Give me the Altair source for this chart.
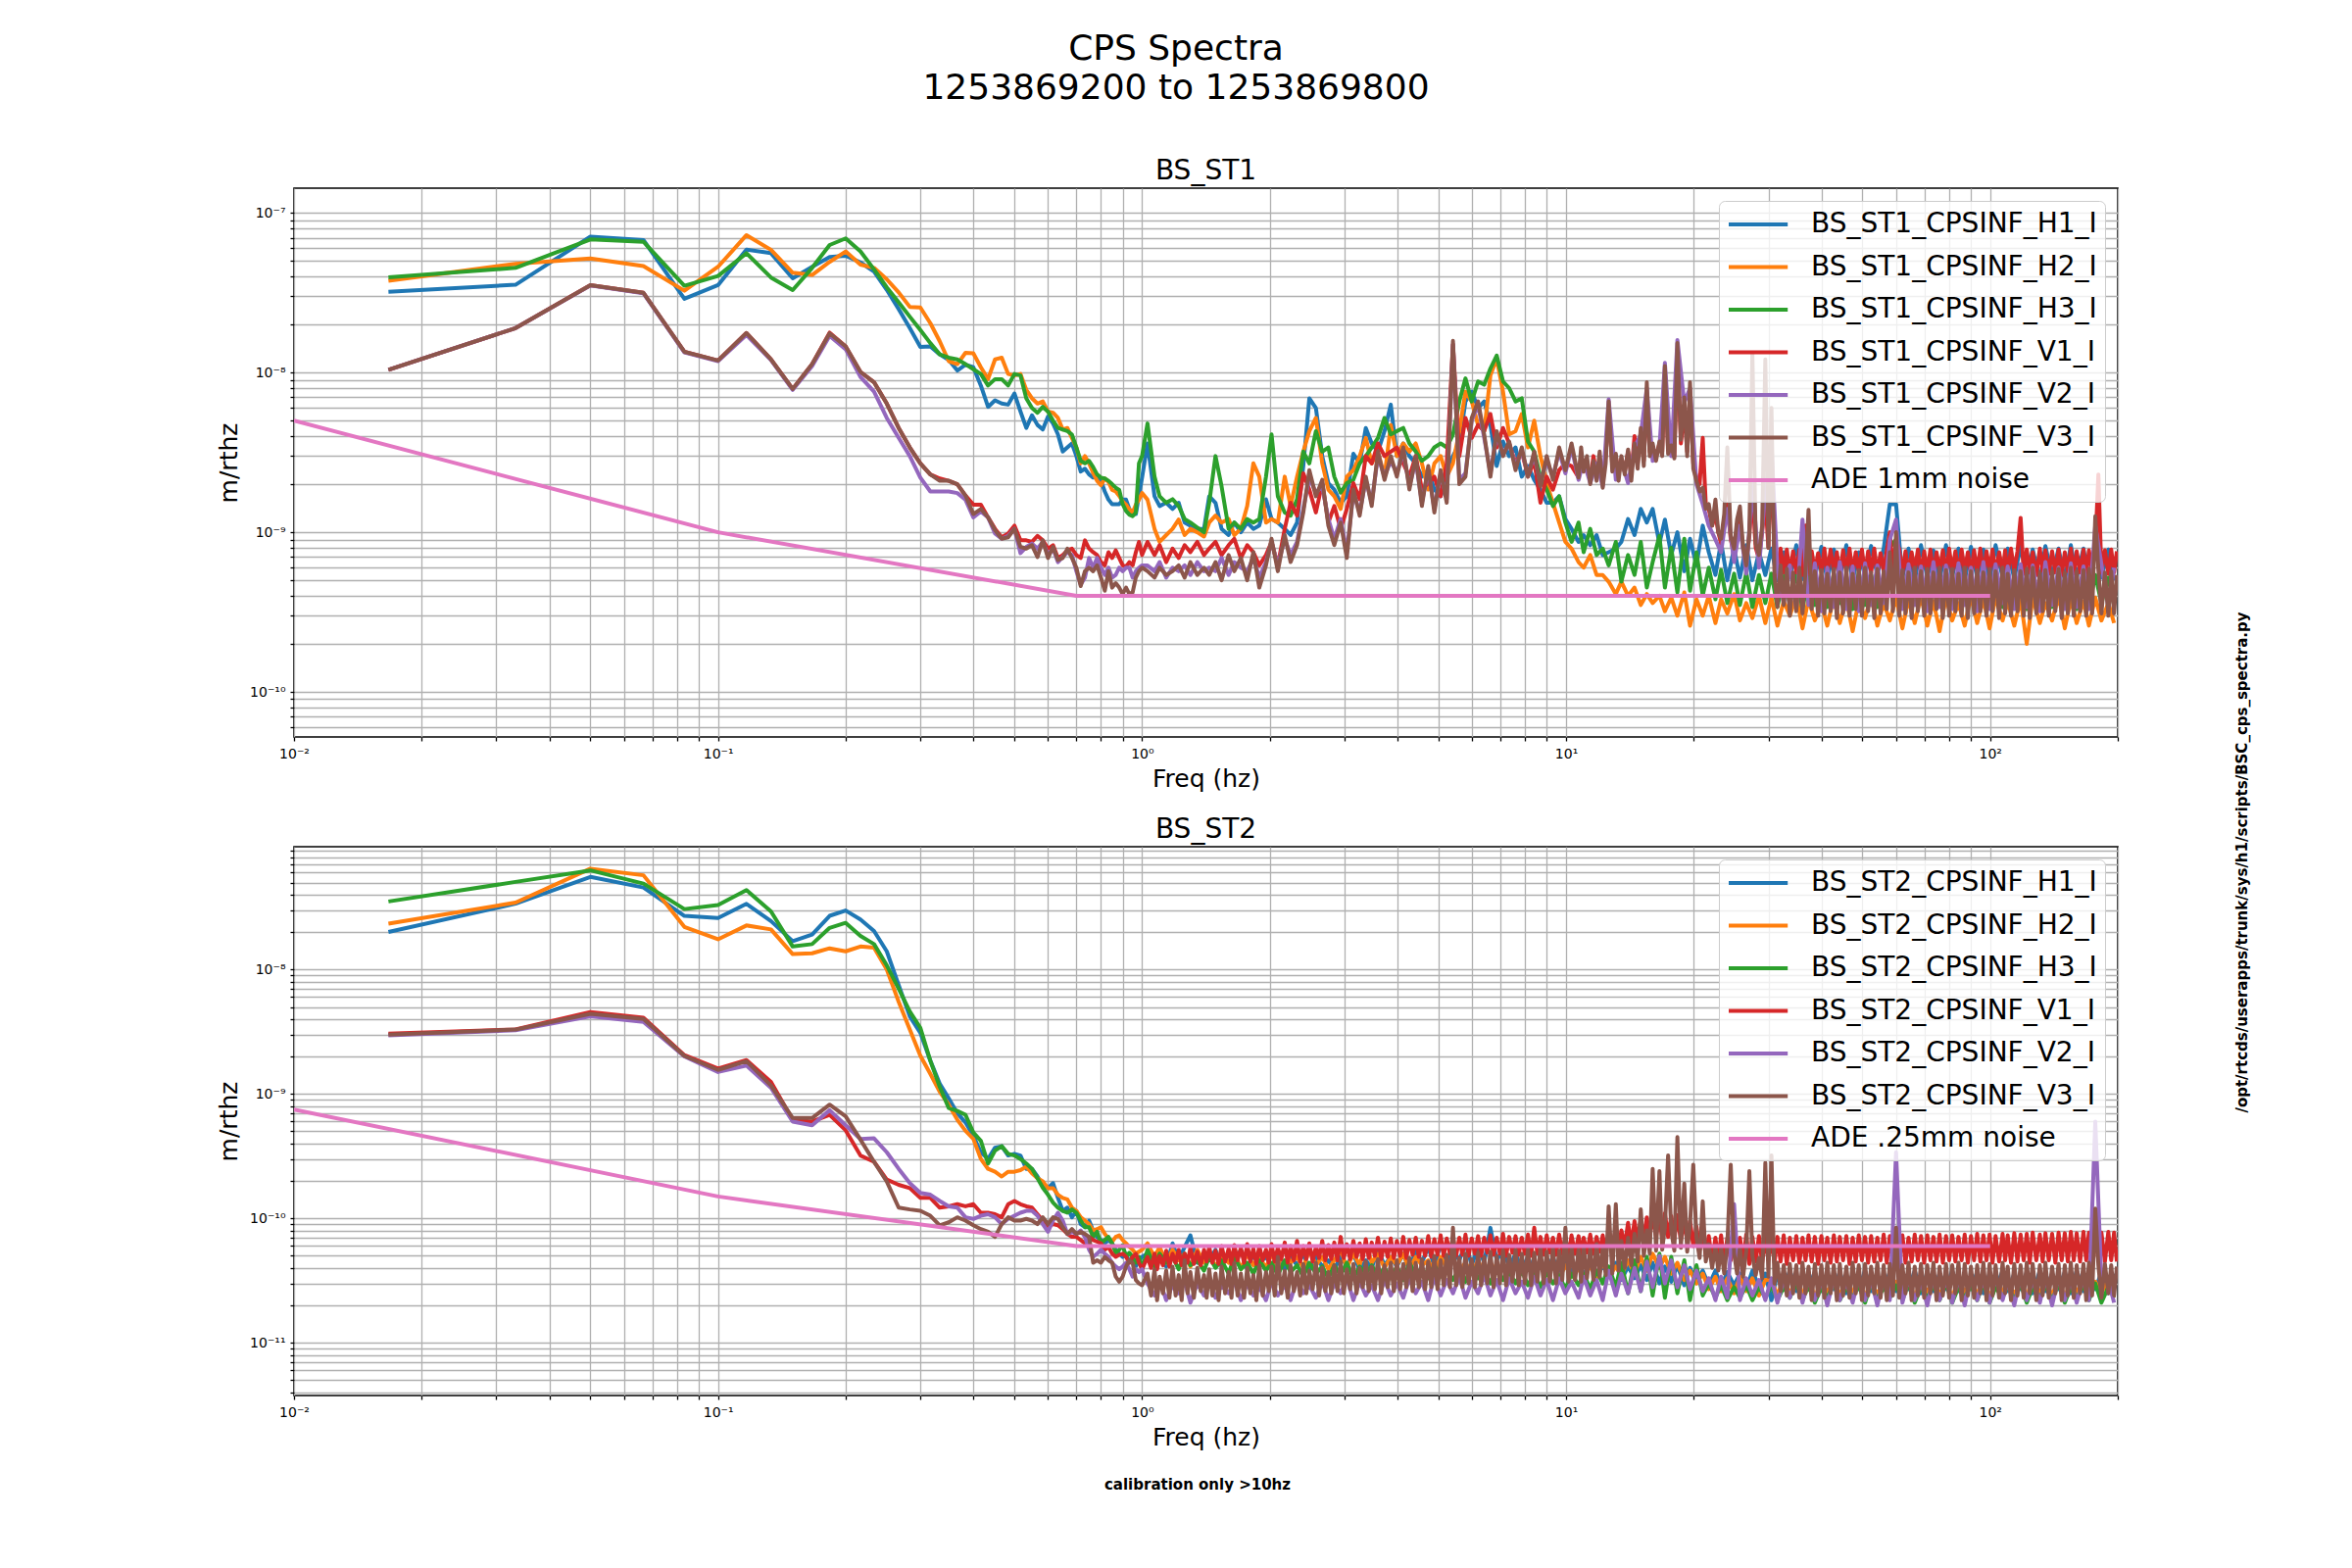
import altair as alt
import pandas as pd

FONT = "DejaVu Sans"
UNIT = 1e-10  # all series values below are in units of 1e-10 m/rthz

# ---------------- frequency grids (Hz) ----------------
F_LOW = [
    0.0167, 0.0333, 0.05, 0.0667, 0.0833, 0.1, 0.1167, 0.1333, 0.15, 0.1667,
    0.1833, 0.2, 0.2167, 0.2333, 0.25, 0.2667, 0.2833, 0.3, 0.3167, 0.3333,
    0.35, 0.3667, 0.3833, 0.4, 0.4167, 0.4333, 0.45, 0.4667, 0.4833, 0.5,
    0.5167, 0.5333, 0.55, 0.5667, 0.5833, 0.6, 0.6167, 0.6333, 0.65, 0.6667,
    0.6833, 0.7, 0.7167, 0.7333, 0.75, 0.7667, 0.7833, 0.8, 0.8167, 0.8333,
    0.85, 0.8667, 0.8833, 0.9, 0.9167, 0.9333, 0.95, 0.9667, 0.9833, 1.0,
]
F_HIGH = [
    1.03, 1.07, 1.10, 1.14, 1.18, 1.22, 1.26, 1.30, 1.35, 1.40,
    1.44, 1.49, 1.54, 1.60, 1.65, 1.71, 1.77, 1.83, 1.89, 1.96,
    2.02, 2.09, 2.17, 2.24, 2.32, 2.40, 2.48, 2.57, 2.66, 2.75,
    2.84, 2.94, 3.04, 3.15, 3.26, 3.37, 3.48, 3.60, 3.73, 3.86,
    3.99, 4.13, 4.27, 4.42, 4.57, 4.73, 4.89, 5.06, 5.23, 5.41,
    5.60, 5.79, 5.99, 6.20, 6.41, 6.63, 6.86, 7.10, 7.34, 7.60,
    7.86, 8.13, 8.41, 8.70, 9.00, 9.31, 9.63, 9.96, 10.3, 10.7,
    11.0, 11.4, 11.8, 12.2, 12.6, 13.1, 13.5, 14.0, 14.5, 15.0,
    15.5, 16.0, 16.6, 17.1, 17.7, 18.3, 19.0, 19.6, 20.3, 21.0,
    21.7, 22.5, 23.2, 24.0, 24.9, 25.7, 26.6, 27.5, 28.5, 29.5,
    30.5, 31.5, 32.6, 33.7, 34.9, 36.1, 37.3, 38.6, 40.0, 41.3,
    42.8, 44.2, 45.8, 47.4, 49.0, 50.7, 52.4, 54.2, 56.1, 58.0,
    60.0, 62.1, 64.2, 66.4, 68.7, 71.1, 73.5, 76.0, 78.7, 81.4,
    84.2, 87.1, 90.1, 93.2, 96.4, 99.7, 103, 107, 110, 114,
    118, 122, 126, 131, 135, 140, 145, 150, 155, 160,
    166, 171, 177, 183, 190, 196,
]
F_HIGH_A = [
    1.03, 1.07, 1.10, 1.14, 1.18, 1.22, 1.26, 1.30, 1.35, 1.40,
    1.44, 1.49, 1.54, 1.60, 1.65, 1.71, 1.77, 1.83, 1.89, 1.96,
    2.02, 2.09, 2.17, 2.24, 2.32, 2.40, 2.48, 2.57, 2.66, 2.75,
    2.84, 2.94, 3.04, 3.15, 3.26, 3.37, 3.48, 3.60, 3.73, 3.86,
    3.99, 4.13, 4.27, 4.42, 4.57, 4.73, 4.89, 5.06, 5.23, 5.41,
    5.60, 5.79, 5.99, 6.20, 6.41, 6.63, 6.86, 7.10, 7.34, 7.60,
    7.86, 8.13, 8.41, 8.70, 9.00, 9.31, 9.63, 9.96, 10.3,
]
F_DENSE_1 = [
    1.03, 1.05, 1.07, 1.085, 1.10, 1.12, 1.14, 1.16, 1.18, 1.20,
    1.22, 1.24, 1.26, 1.28, 1.30, 1.325, 1.35, 1.375, 1.40, 1.42,
    1.44, 1.465, 1.49, 1.515, 1.54, 1.57, 1.60, 1.625, 1.65, 1.68,
    1.71, 1.74, 1.77, 1.80, 1.83, 1.86, 1.89, 1.925, 1.96, 1.99,
    2.02, 2.055, 2.09, 2.13, 2.17, 2.205, 2.24, 2.28, 2.32, 2.36,
    2.40, 2.44, 2.48, 2.525, 2.57, 2.615, 2.66, 2.705, 2.75, 2.795,
    2.84, 2.89, 2.94, 2.99, 3.04, 3.095, 3.15, 3.205, 3.26, 3.315,
    3.37, 3.425, 3.48, 3.54, 3.60, 3.665, 3.73, 3.795, 3.86, 3.925,
    3.99, 4.06, 4.13, 4.2, 4.27, 4.345, 4.42, 4.495, 4.57, 4.65,
    4.73, 4.81, 4.89, 4.975, 5.06, 5.145, 5.23, 5.32, 5.41, 5.505,
    5.60, 5.695, 5.79, 5.89, 5.99, 6.095, 6.20, 6.305, 6.41, 6.52,
    6.63, 6.745, 6.86, 6.98, 7.10, 7.22, 7.34, 7.47, 7.60, 7.73,
    7.86, 7.995, 8.13, 8.27, 8.41, 8.555, 8.70, 8.85, 9.00, 9.155,
    9.31, 9.47, 9.63, 9.795, 9.96, 10.13, 10.3, 10.5,
]
F_DENSE_10 = [
    10.7, 10.85, 11.0, 11.2, 11.4, 11.6, 11.8, 12.0, 12.2, 12.4,
    12.6, 12.85, 13.1, 13.3, 13.5, 13.75, 14.0, 14.25, 14.5, 14.75,
    15.0, 15.25, 15.5, 15.75, 16.0, 16.3, 16.6, 16.85, 17.1, 17.4,
    17.7, 18.0, 18.3, 18.65, 19.0, 19.3, 19.6, 19.95, 20.3, 20.65,
    21.0, 21.35, 21.7, 22.1, 22.5, 22.85, 23.2, 23.6, 24.0, 24.45,
    24.9, 25.3, 25.7, 26.15, 26.6, 27.05, 27.5, 28.0, 28.5, 29.0,
    29.5, 30.0, 30.5, 31.0, 31.5, 32.05, 32.6, 33.15, 33.7, 34.3,
    34.9, 35.5, 36.1, 36.7, 37.3, 37.95, 38.6, 39.3, 40.0, 40.65,
    41.3, 42.05, 42.8, 43.5, 44.2, 45.0, 45.8, 46.6, 47.4, 48.2,
    49.0, 49.85, 50.7, 51.55, 52.4, 53.3, 54.2, 55.15, 56.1, 57.05,
    58.0, 59.0, 60.0, 61.05, 62.1, 63.15, 64.2, 65.3, 66.4, 67.55,
    68.7, 69.9, 71.1, 72.3, 73.5, 74.75, 76.0, 77.35, 78.7, 80.05,
    81.4, 82.8, 84.2, 85.65, 87.1, 88.6, 90.1, 91.65, 93.2, 94.8,
    96.4, 98.05, 99.7, 101.3, 103, 105, 107, 108.5, 110, 112,
    114, 116, 118, 120, 122, 124, 126, 128.5, 131, 133,
    135, 137.5, 140, 142.5, 145, 147.5, 150, 152.5, 155, 157.5,
    160, 163, 166, 168.5, 171, 174, 177, 180, 183, 186.5,
    190, 193, 196, 199,
]

# ---------------- BS_ST1 ----------------
ST1_H1_LOW = [
    321, 355, 710, 676, 290, 353, 590, 560, 390, 460,
    530, 540, 490, 430, 330, 250, 190, 145, 146, 130,
    120, 103, 112, 108, 83, 61, 67, 64, 63, 74,
    57, 45, 54, 47, 44, 53, 48, 41, 32, 34,
    36, 30, 24, 25, 23, 22, 22, 21, 18, 16,
    15, 15, 15, 16, 16, 14, 13, 13, 17, 22,
]
ST1_H1_HIGH = [
    36, 16.8, 14.6, 15.3, 14.0, 15.3, 11.5, 11.0, 10.5, 10.5,
    16.8, 15.3, 10.5, 9.6, 11.5, 10.0, 11.5, 10.5, 11.0, 16.1,
    12.1, 11.5, 10.5, 9.6, 11.5, 26, 69, 60, 30, 20.3,
    18.5, 15.3, 16.8, 31, 27, 45, 36, 32, 43, 63,
    30, 36, 30, 27, 22.3, 24.5, 18.5, 16.8, 22.3, 30,
    36, 66, 76, 60, 66, 47, 26, 37, 30, 34,
    22.3, 26, 21.3, 18.5, 15.3, 15.3, 16.8, 12.1, 10.5, 8.7,
    9.6, 8.3, 9.6, 7.2, 7.5, 7.9, 8.7, 12.1, 9.6, 14.0,
    11.5, 14.0, 8.5, 12.0, 7.2, 10.0, 5.7, 9.1, 6.2, 11.0,
    7.5, 5.4, 8.7, 5.0, 7.9, 5.2, 8.3, 5.0, 7.5, 5.4,
    7.9, 5.0, 7.5, 5.2, 8.3, 5.1, 7.9, 5.2, 8.1, 5.0,
    7.8, 5.2, 8.3, 5.0, 7.5, 5.3, 8.2, 5.4, 7.9, 15.0,
    15.0, 5.2, 7.9, 5.0, 8.3, 5.2, 7.7, 5.0, 8.3, 5.3,
    7.9, 5.0, 8.1, 5.2, 7.8, 5.0, 8.3, 5.2, 7.9, 5.1,
    8.3, 5.2, 7.8, 5.0, 8.2, 5.3, 7.9, 5.0, 8.3, 5.2,
    7.9, 5.0, 8.3, 5.2, 7.8, 5.0,
]
ST1_H2_LOW = [
    376, 480, 518, 465, 326, 460, 726, 588, 422, 409,
    494, 574, 475, 453, 384, 318, 258, 256, 204, 157,
    118, 113, 133, 132, 108, 91, 121, 124, 98, 96,
    98, 78, 69, 64, 66, 57, 56, 52, 44, 45,
    39, 34, 27, 30, 27, 23.5, 21, 19.7, 21.7, 20.7,
    18.4, 18, 16.9, 15.6, 14.9, 13.9, 13.3, 14.9, 16, 17.6,
]
ST1_H2_HIGH = [
    16.0, 10.5, 8.7, 9.6, 10.5, 12.0, 9.6, 10.5, 10.0, 9.4,
    11.5, 12.7, 11.5, 12.1, 9.6, 10.5, 14.6, 27, 22.3, 11.5,
    12.1, 11.5, 22.3, 14.6, 22.3, 32, 43, 52, 27, 18.5,
    16.8, 14.0, 22.3, 24.5, 30, 39, 27, 32, 22.3, 47,
    30, 36, 32, 36, 27, 18.5, 27, 30, 22.3, 27,
    43, 76, 66, 47, 43, 96, 122, 76, 41, 43,
    55, 34, 50, 30, 20.3, 15.3, 11.5, 8.7, 7.9, 6.5,
    6.0, 7.2, 5.4, 5.4, 4.9, 4.1, 4.9, 4.0, 4.5, 3.5,
    4.1, 3.6, 4.0, 3.2, 3.9, 3.0, 4.2, 2.6, 3.8, 3.0,
    4.0, 2.7, 3.8, 3.1, 4.1, 2.8, 3.6, 2.9, 4.0, 2.7,
    3.9, 2.6, 3.7, 3.0, 4.0, 2.5, 3.8, 2.8, 3.6, 2.6,
    3.9, 2.7, 3.8, 2.4, 3.7, 2.9, 4.0, 2.6, 3.6, 2.8,
    3.9, 2.5, 3.8, 2.7, 4.0, 2.6, 3.7, 2.4, 3.9, 2.8,
    3.6, 2.6, 4.0, 2.7, 3.8, 2.5, 3.9, 2.8, 3.7, 2.6,
    3.8, 2.0, 3.9, 2.7, 3.6, 2.8, 4.0, 2.5, 3.8, 2.7,
    3.7, 2.6, 3.9, 2.8, 3.6, 2.7,
]
ST1_H3_LOW = [
    395, 453, 683, 660, 350, 403, 560, 394, 329, 453,
    630, 693, 574, 443, 342, 276, 224, 185, 153, 130,
    124, 121, 113, 105, 98, 83, 91, 91, 83, 98,
    96, 69, 60, 56, 61, 57, 50, 45, 44, 43,
    41, 34, 28, 27, 28, 25.6, 23, 22, 21.7, 21,
    20, 19, 18.4, 15, 13.6, 12.9, 12.6, 13.3, 27, 30,
]
ST1_H3_HIGH = [
    48, 22.3, 16.8, 15.3, 16.1, 14.6, 12.1, 11.5, 10.7, 10.0,
    15.3, 30, 19.4, 10.5, 11.5, 10.5, 12.1, 11.5, 12.1, 22.3,
    41, 16.8, 13.3, 12.7, 16.1, 32, 27, 43, 32, 34,
    22.3, 17.7, 20.3, 21.3, 27, 30, 34, 39, 52, 41,
    43, 45, 36, 32, 28, 30, 34, 36, 34, 41,
    66, 92, 66, 88, 84, 106, 128, 88, 80, 66,
    69, 37, 32, 22.3, 18.5, 14.6, 16.8, 11.5, 8.7, 11.5,
    7.5, 10.5, 7.2, 7.9, 6.2, 8.7, 4.9, 7.2, 5.4, 8.7,
    4.5, 6.5, 9.5, 4.5, 8.0, 4.2, 9.1, 4.3, 7.5, 4.0,
    6.0, 3.8, 5.8, 3.6, 5.5, 3.5, 5.6, 3.4, 5.4, 3.6,
    5.5, 3.4, 5.3, 3.6, 5.6, 3.3, 5.4, 3.5, 5.2, 3.4,
    5.5, 3.6, 5.3, 3.3, 5.6, 3.5, 5.4, 3.4, 5.2, 8.0,
    9.0, 3.4, 5.5, 3.6, 5.3, 3.3, 5.6, 3.5, 5.4, 3.4,
    5.2, 3.6, 5.5, 3.3, 5.4, 3.5, 5.6, 3.4, 5.3, 3.6,
    5.5, 3.3, 5.4, 3.5, 5.2, 3.4, 5.6, 3.6, 5.3, 3.3,
    5.5, 3.4, 5.4, 3.6, 5.2, 3.5,
]
ST1_V1_LOW = [
    104, 190, 353, 316, 135, 119, 177, 121, 79, 113,
    178, 146, 101, 87, 64, 45, 34, 27, 23, 21.7,
    21, 20, 17, 14.9, 14.9, 12.4, 10.5, 9.3, 9.8, 11.0,
    8.9, 8.9, 8.7, 9.5, 8.9, 7.9, 8.3, 6.9, 7.2, 7.7,
    7.9, 7.2, 6.9, 8.9, 7.9, 7.5, 7.2, 6.5, 6.2, 7.5,
    6.9, 7.7, 6.9, 6.2, 6.1, 6.5, 6.2, 7.5, 8.7, 7.2,
]
ST1_V1_MID = [
    8.7, 7.2, 8.3, 6.5, 7.9, 6.9, 8.3, 7.5, 8.7, 7.2,
    7.9, 8.7, 7.2, 8.3, 9.1, 6.9, 8.3, 7.5, 6.2, 7.2,
    8.7, 6.2, 10.5, 15.3, 12.7, 23.4, 18.5, 13.3, 20.3, 11.5,
    14.6, 10.5, 14.0, 20.3, 16.1, 30, 27, 36, 30, 32,
    34, 27, 22.3, 30, 18.5, 20.3, 22.3, 16.8, 27, 150,
    30, 52, 39, 47, 43, 55, 34, 45, 36, 27,
    32, 22.3, 28, 15.3, 22.3, 18.5, 24.5, 27, 26,
]
ST1_V1_DENSE = [
    22, 30, 24, 27, 21, 30, 23, 28, 22, 30,
    60, 26, 30, 23, 29, 24, 32, 23, 40, 27,
    43, 28, 75, 32, 34, 30, 36, 32, 100, 33,
    34, 30, 140, 36, 60, 32, 75, 27, 22, 20,
    39, 15, 14, 11, 13, 10, 8.5, 12, 15, 9.0,
    7.2, 11, 12, 8.0, 6.5, 9.5, 18, 8.0, 6.8, 10,
    16, 8.0, 30, 7.5, 5.4, 7.9, 5.6, 7.8, 5.5, 7.6,
    5.6, 7.8, 5.4, 11, 5.5, 7.6, 5.7, 7.4, 5.6, 7.9,
    5.5, 7.8, 5.7, 7.5, 5.4, 7.7, 5.6, 7.9, 5.5, 7.5,
    5.7, 7.8, 5.4, 7.6, 5.6, 7.9, 5.5, 7.4, 5.7, 7.7,
    10, 5.6, 9, 7.8, 5.5, 7.6, 5.4, 7.5, 5.7, 7.8,
    5.5, 7.6, 5.6, 7.8, 5.4, 7.5, 5.7, 7.7, 5.5, 7.9,
    5.6, 7.6, 5.4, 7.8, 5.7, 7.5, 5.5, 7.7, 5.6, 7.9,
    5.4, 7.6, 5.7, 7.8, 5.5, 7.5, 5.6, 7.7, 5.4, 7.9,
    5.7, 7.6, 12.3, 5.5, 7.8, 5.6, 7.5, 5.4, 7.9, 5.7,
    7.7, 5.5, 7.6, 5.6, 7.8, 5.4, 7.5, 5.7, 7.9, 5.5,
    7.6, 5.6, 7.8, 5.4, 7.7, 5.7, 8.0, 23, 5.6, 7.7,
    5.5, 7.8, 5.6, 7.6,
]
ST1_V2_LOW = [
    104, 190, 351, 314, 134, 118, 172, 120, 78, 110,
    170, 140, 94, 76, 52, 39, 30, 22, 18, 18,
    18, 17.6, 16, 12.4, 13.5, 12.4, 9.8, 9.1, 9.5, 10.5,
    7.4, 8.1, 8.5, 7.9, 8.7, 7.2, 7.9, 6.5, 7.0, 7.5,
    7.2, 5.7, 4.7, 5.2, 6.9, 6.0, 6.9, 6.0, 5.4, 6.0,
    5.2, 5.4, 6.0, 5.7, 6.0, 6.0, 5.2, 5.7, 6.0, 6.2,
]
ST1_V2_HIGH = [
    6.2, 5.7, 6.5, 5.2, 6.0, 5.7, 6.2, 5.4, 6.5, 5.7,
    6.0, 5.7, 6.9, 5.4, 6.5, 6.0, 5.7, 6.9, 5.2, 6.5,
    8.7, 6.2, 9.1, 7.2, 8.7, 14, 22, 17.7, 19.4, 12.1,
    9.1, 12.1, 7.5, 17.7, 13.3, 21.3, 15.3, 30, 22.3, 28,
    23.4, 32, 19.4, 28, 15.3, 24.5, 14, 23.4, 16.1, 150,
    21.3, 23.4, 50, 63, 39, 23.4, 41, 31, 36, 26,
    32, 23.4, 30, 20.3, 28, 22.3, 32, 23.4, 34, 21.3,
    28, 20.3, 27, 19.4, 68, 21.3, 28, 20.3, 34, 41,
    80, 28, 34, 115, 30, 160, 65, 80, 20, 15,
    11, 9, 7.5, 14, 6.5, 11, 5.5, 20, 6, 18,
    35, 5.8, 3.6, 6.2, 3.3, 12, 3.5, 6.4, 3.2, 6.0,
    3.4, 6.5, 3.3, 6.1, 3.2, 6.4, 3.5, 6.2, 3.6, 9,
    12, 3.3, 6.3, 3.5, 6.1, 3.2, 6.5, 3.4, 6.2, 3.3,
    6.4, 3.5, 6.0, 3.2, 6.5, 3.3, 6.3, 3.6, 6.1, 3.3,
    6.3, 3.4, 6.2, 3.2, 6.5, 3.5, 6.0, 3.3, 6.4, 3.4,
    6.1, 3.3, 11, 6.3, 3.4, 6.0,
]
ST1_V3_LOW = [
    104, 190, 353, 316, 135, 119, 177, 121, 79, 113,
    176, 146, 101, 87, 64, 45, 34, 27, 23, 21,
    21, 20, 17, 13, 14, 12.4, 10.3, 9.1, 9.3, 10.5,
    8.1, 7.9, 8.3, 7.0, 8.9, 6.9, 8.1, 6.7, 6.9, 7.9,
    6.9, 6.0, 4.6, 5.7, 6.0, 5.7, 6.2, 5.2, 4.3, 5.7,
    4.5, 4.8, 4.5, 4.1, 4.5, 4.1, 4.2, 5.2, 5.7, 6.0,
]
ST1_V3_MID = [
    5.7, 5.2, 6.0, 5.4, 5.7, 6.2, 5.2, 6.5, 5.4, 6.0,
    5.4, 6.5, 5.0, 7.2, 5.7, 6.9, 5.0, 7.5, 4.5, 6.2,
    9.1, 5.7, 9.6, 6.5, 8.3, 13.3, 24.5, 16.8, 21.3, 11.0,
    8.3, 11.5, 6.9, 18.5, 12.7, 22.3, 14.6, 32, 21.3, 30,
    22.3, 34, 18.5, 30, 14.6, 26, 13.3, 24.5, 15.3, 158,
    20, 22.3, 52, 66, 41, 22.3, 43, 30, 37, 24.5,
    34, 22.3, 32, 19.4, 30, 21.3, 34, 24.5, 36,
]
ST1_V3_DENSE = [
    22, 34, 24, 30, 20, 28, 21, 32, 19, 27,
    66, 24, 31, 21, 30, 23, 33, 21, 36, 25,
    45, 26, 87, 30, 36, 28, 37, 30, 110, 31,
    35, 29, 153, 38, 70, 30, 87, 25, 21, 18,
    19, 14, 15, 11, 16, 10, 9.1, 13, 34, 9.5,
    7.9, 12, 14.5, 8.0, 6.2, 10, 132, 8.5, 7.2, 11,
    121, 8.0, 60, 5.4, 3.4, 6.2, 3.5, 5.9, 3.0, 5.6,
    3.2, 6.0, 3.1, 5.7, 13.8, 3.3, 5.7, 3.0, 5.8, 3.1,
    5.5, 3.2, 5.9, 2.9, 5.6, 3.1, 6.0, 3.0, 5.5, 3.3,
    5.8, 3.0, 6.0, 3.2, 5.6, 2.9, 5.9, 3.1, 5.7, 3.3,
    7.5, 3.2, 10, 3.0, 5.8, 3.1, 5.6, 2.9, 6.0, 3.2,
    5.7, 3.0, 5.9, 3.1, 5.6, 3.3, 6.0, 2.9, 5.8, 3.0,
    5.9, 3.2, 5.5, 3.0, 6.0, 2.9, 5.7, 3.1, 5.8, 3.2,
    5.6, 3.0, 5.9, 3.2, 5.7, 2.9, 6.0, 3.1, 5.5, 3.0,
    5.8, 3.2, 5.7, 3.0, 5.9, 2.9, 6.0, 3.1, 5.6, 3.2,
    5.8, 3.0, 5.7, 3.2, 5.9, 2.9, 5.6, 3.1, 6.0, 3.0,
    5.7, 3.2, 5.8, 3.0, 5.9, 3.1, 12.6, 5.8, 3.1, 5.6,
    3.0, 5.7, 3.1, 5.4,
]

# ---------------- BS_ST2 ----------------
ST2_H1_LOW = [
    200, 338, 555, 456, 270, 259, 337, 245, 169, 191,
    270, 298, 252, 204, 140, 75, 42, 31, 18.5, 12.1,
    9.2, 7.0, 5.9, 4.6, 3.4, 3.0, 3.7, 3.8, 3.2, 3.3,
    3.2, 2.5, 2.5, 2.17, 1.86, 1.75, 1.92, 1.46, 1.15, 1.22,
    1.02, 1.15, 0.90, 0.85, 0.96, 0.80, 0.71, 0.67, 0.63, 0.67,
    0.63, 0.56, 0.52, 0.49, 0.52, 0.44, 0.49, 0.41, 0.46, 0.49,
]
ST2_H1_HIGH = [
    0.52, 0.44, 0.56, 0.41, 0.63, 0.46, 0.59, 0.73, 0.44, 0.52,
    0.46, 0.56, 0.41, 0.52, 0.44, 0.56, 0.39, 0.52, 0.44, 0.49,
    0.41, 0.52, 0.39, 0.49, 0.42, 0.52, 0.38, 0.49, 0.41, 0.46,
    0.39, 0.49, 0.42, 0.52, 0.38, 0.46, 0.40, 0.56, 0.42, 0.49,
    0.41, 0.52, 0.38, 0.56, 0.44, 0.59, 0.41, 0.63, 0.44, 0.56,
    0.46, 0.63, 0.42, 0.59, 0.44, 0.84, 0.46, 0.56, 0.41, 0.52,
    0.39, 0.49, 0.36, 0.46, 0.38, 0.49, 0.35, 0.46, 0.37, 0.44,
    0.35, 0.44, 0.33, 0.42, 0.34, 0.44, 0.32, 0.41, 0.33, 0.42,
    0.32, 0.44, 0.30, 0.41, 0.31, 0.42, 0.29, 0.40, 0.31, 0.38,
    0.29, 0.38, 0.28, 0.37, 0.29, 0.36, 0.27, 0.38, 0.28, 0.36,
    0.22, 0.36, 0.27, 0.38, 0.26, 0.35, 0.28, 0.37, 0.26, 0.36,
    0.27, 0.37, 0.25, 0.36, 0.27, 0.38, 0.26, 0.35, 0.27, 0.37,
    0.26, 0.36, 0.27, 0.38, 0.25, 0.37, 0.26, 0.36, 0.27, 0.38,
    0.26, 0.35, 0.27, 0.37, 0.25, 0.36, 0.27, 0.38, 0.26, 0.36,
    0.27, 0.37, 0.25, 0.38, 0.26, 0.36, 0.27, 0.37, 0.25, 0.38,
    0.26, 0.36, 0.27, 0.37, 0.25, 0.36,
]
ST2_H2_LOW = [
    234, 345, 646, 572, 220, 175, 226, 210, 133, 135,
    148, 140, 153, 150, 100, 55, 33, 20.3, 14.5, 10.4,
    8.2, 6.2, 5.05, 4.35, 3.0, 2.5, 2.37, 2.17, 2.37, 2.37,
    2.44, 2.6, 2.3, 2.1, 1.98, 1.75, 1.75, 1.55, 1.46, 1.42,
    1.22, 1.15, 1.02, 0.96, 0.90, 0.80, 0.82, 0.85, 0.75, 0.69,
    0.65, 0.71, 0.73, 0.67, 0.63, 0.59, 0.56, 0.52, 0.54, 0.56,
]
ST2_H2_HIGH = [
    0.63, 0.49, 0.59, 0.44, 0.56, 0.46, 0.52, 0.41, 0.56, 0.44,
    0.52, 0.41, 0.49, 0.44, 0.56, 0.39, 0.52, 0.42, 0.49, 0.40,
    0.52, 0.41, 0.59, 0.44, 0.49, 0.40, 0.56, 0.42, 0.49, 0.39,
    0.46, 0.56, 0.40, 0.52, 0.42, 0.63, 0.44, 0.52, 0.40, 0.49,
    0.42, 0.52, 0.39, 0.49, 0.42, 0.46, 0.36, 0.49, 0.40, 0.46,
    0.38, 0.44, 0.36, 0.46, 0.35, 0.44, 0.37, 0.42, 0.34, 0.44,
    0.36, 0.42, 0.33, 0.44, 0.35, 0.41, 0.33, 0.42, 0.34, 0.40,
    0.32, 0.42, 0.33, 0.44, 0.34, 0.41, 0.35, 0.46, 0.36, 0.49,
    0.38, 0.52, 0.40, 0.49, 0.36, 0.44, 0.32, 0.38, 0.30, 0.36,
    0.27, 0.34, 0.26, 0.33, 0.25, 0.34, 0.26, 0.33, 0.24, 0.32,
    0.32, 0.24, 0.33, 0.25, 0.31, 0.24, 0.34, 0.23, 0.32, 0.25,
    0.33, 0.24, 0.31, 0.25, 0.34, 0.23, 0.32, 0.24, 0.33, 0.25,
    0.31, 0.24, 0.33, 0.23, 0.32, 0.25, 0.34, 0.24, 0.31, 0.23,
    0.33, 0.25, 0.32, 0.24, 0.34, 0.23, 0.31, 0.25, 0.33, 0.24,
    0.32, 0.23, 0.34, 0.25, 0.31, 0.24, 0.33, 0.23, 0.32, 0.25,
    0.34, 0.24, 0.31, 0.25, 0.33, 0.23,
]
ST2_H3_LOW = [
    352, 506, 626, 490, 306, 330, 435, 293, 153, 160,
    216, 237, 186, 160, 108, 70, 46, 34, 18.5, 11.4,
    7.7, 7.3, 6.8, 4.9, 4.2, 2.76, 3.5, 3.8, 3.3, 3.2,
    3.0, 2.76, 2.5, 2.1, 1.76, 1.55, 1.34, 1.22, 1.15, 1.11,
    1.18, 1.11, 0.96, 0.85, 0.85, 0.71, 0.78, 0.63, 0.67, 0.71,
    0.63, 0.53, 0.56, 0.61, 0.49, 0.53, 0.49, 0.44, 0.49, 0.39,
]
ST2_H3_HIGH = [
    0.56, 0.41, 0.52, 0.44, 0.49, 0.39, 0.52, 0.42, 0.46, 0.38,
    0.49, 0.40, 0.46, 0.36, 0.49, 0.39, 0.44, 0.36, 0.46, 0.38,
    0.44, 0.35, 0.46, 0.37, 0.42, 0.34, 0.44, 0.36, 0.41, 0.33,
    0.42, 0.35, 0.44, 0.33, 0.41, 0.36, 0.42, 0.34, 0.40, 0.33,
    0.41, 0.32, 0.44, 0.35, 0.40, 0.33, 0.42, 0.34, 0.39, 0.32,
    0.40, 0.31, 0.42, 0.33, 0.38, 0.30, 0.41, 0.32, 0.37, 0.30,
    0.38, 0.29, 0.36, 0.28, 0.37, 0.30, 0.35, 0.27, 0.36, 0.29,
    0.36, 0.27, 0.38, 0.30, 0.41, 0.28, 0.44, 0.25, 0.46, 0.26,
    0.49, 0.24, 0.52, 0.23, 0.49, 0.25, 0.46, 0.22, 0.42, 0.24,
    0.30, 0.23, 0.29, 0.22, 0.28, 0.23, 0.29, 0.22, 0.28, 0.23,
    0.29, 0.22, 0.28, 0.23, 0.30, 0.22, 0.29, 0.21, 0.28, 0.23,
    0.30, 0.22, 0.28, 0.23, 0.29, 0.21, 0.30, 0.22, 0.28, 0.23,
    0.29, 0.22, 0.30, 0.21, 0.28, 0.23, 0.29, 0.22, 0.30, 0.21,
    0.28, 0.23, 0.29, 0.22, 0.30, 0.21, 0.28, 0.23, 0.29, 0.22,
    0.30, 0.21, 0.28, 0.23, 0.29, 0.22, 0.30, 0.21, 0.28, 0.23,
    0.29, 0.22, 0.30, 0.21, 0.28, 0.23,
]
ST2_V1_LOW = [
    30.5, 33, 45.5, 41, 20.5, 16, 18.7, 12.5, 6.2, 6.0,
    6.8, 5.1, 3.2, 2.85, 2.05, 1.86, 1.75, 1.46, 1.46, 1.22,
    1.25, 1.3, 1.25, 1.3, 1.11, 1.11, 1.08, 1.02, 1.3, 1.38,
    1.3, 1.25, 1.22, 1.08, 0.96, 0.85, 0.90, 0.88, 0.82, 0.75,
    0.71, 0.71, 0.67, 0.63, 0.71, 0.67, 0.65, 0.63, 0.56, 0.59,
    0.52, 0.49, 0.51, 0.52, 0.49, 0.44, 0.49, 0.52, 0.44, 0.39,
]
ST2_V1_DENSE_1 = [
    0.49, 0.40, 0.52, 0.39, 0.50, 0.42, 0.55, 0.41, 0.52, 0.44,
    0.56, 0.42, 0.52, 0.44, 0.58, 0.43, 0.54, 0.42, 0.56, 0.45,
    0.59, 0.44, 0.55, 0.43, 0.60, 0.45, 0.57, 0.43, 0.61, 0.46,
    0.58, 0.44, 0.62, 0.45, 0.57, 0.43, 0.60, 0.46, 0.56, 0.44,
    0.62, 0.45, 0.58, 0.47, 0.64, 0.44, 0.60, 0.46, 0.66, 0.45,
    0.60, 0.47, 0.63, 0.45, 0.59, 0.48, 0.66, 0.46, 0.61, 0.47,
    0.64, 0.46, 0.71, 0.48, 0.62, 0.47, 0.66, 0.49, 0.63, 0.47,
    0.68, 0.48, 0.64, 0.50, 0.70, 0.47, 0.65, 0.49, 0.69, 0.48,
    0.66, 0.50, 0.71, 0.48, 0.67, 0.51, 0.70, 0.49, 0.66, 0.50,
    0.72, 0.49, 0.68, 0.51, 0.73, 0.50, 0.69, 0.52, 0.71, 0.50,
    0.70, 0.51, 0.74, 0.50, 0.69, 0.52, 0.72, 0.50, 0.70, 0.53,
    0.73, 0.51, 0.70, 0.52, 0.75, 0.50, 0.71, 0.53, 0.72, 0.51,
    0.70, 0.52, 0.74, 0.50, 0.84, 0.52, 0.71, 0.51, 0.73, 0.53,
    0.70, 0.51, 0.74, 0.52, 0.71, 0.50, 0.73, 0.52,
]
ST2_V1_DENSE_10 = [
    0.72, 0.51, 0.70, 0.53, 0.74, 0.52, 0.71, 0.54, 0.73, 0.52,
    0.76, 0.55, 0.84, 0.58, 0.80, 0.60, 0.92, 0.62, 0.95, 0.66,
    0.98, 0.68, 1.02, 0.70, 1.08, 0.72, 1.05, 0.69, 1.10, 0.71,
    1.04, 0.68, 1.06, 0.66, 0.98, 0.64, 0.95, 0.60, 0.86, 0.56,
    0.78, 0.50, 0.72, 0.46, 0.70, 0.45, 0.73, 0.44, 0.70, 0.46,
    0.72, 0.44, 0.70, 0.46, 0.74, 0.43, 0.71, 0.45, 0.72, 0.44,
    0.70, 0.46, 0.72, 0.44, 0.71, 0.45, 0.73, 0.43, 0.70, 0.46,
    0.72, 0.44, 0.70, 0.46, 0.73, 0.45, 0.71, 0.43, 0.72, 0.46,
    0.70, 0.44, 0.73, 0.45, 0.71, 0.46, 0.72, 0.43, 0.70, 0.45,
    0.73, 0.46, 0.71, 0.44, 0.72, 0.45, 0.70, 0.46, 0.74, 0.44,
    0.72, 0.45, 0.71, 0.46, 0.73, 0.44, 0.70, 0.45, 0.74, 0.46,
    0.72, 0.44, 0.73, 0.46, 0.71, 0.45, 0.74, 0.44, 0.72, 0.46,
    0.73, 0.45, 0.71, 0.46, 0.74, 0.44, 0.72, 0.46, 0.75, 0.45,
    0.73, 0.46, 0.74, 0.44, 0.72, 0.45, 0.75, 0.46, 0.73, 0.44,
    0.76, 0.45, 0.74, 0.46, 0.75, 0.44, 0.77, 0.46, 0.74, 0.45,
    0.76, 0.46, 0.75, 0.44, 0.77, 0.46, 0.76, 0.45, 0.78, 0.46,
    0.76, 0.45, 0.78, 0.46, 0.77, 0.44, 0.79, 0.46, 0.77, 0.45,
    0.78, 0.46, 0.77, 0.45,
]
ST2_V2_LOW = [
    29.5, 32.5, 42, 38, 20, 15, 16.9, 11.2, 6.0, 5.6,
    7.4, 5.6, 4.35, 4.4, 3.4, 2.5, 1.92, 1.6, 1.55, 1.38,
    1.25, 1.22, 1.02, 0.99, 1.05, 1.08, 1.02, 0.90, 0.99, 1.05,
    1.11, 1.15, 1.15, 1.05, 0.90, 0.78, 0.96, 1.11, 0.96, 0.75,
    0.78, 0.75, 0.80, 0.71, 0.56, 0.49, 0.52, 0.56, 0.52, 0.49,
    0.44, 0.41, 0.39, 0.41, 0.44, 0.39, 0.34, 0.39, 0.37, 0.39,
]
ST2_V2_HIGH = [
    0.30, 0.24, 0.32, 0.22, 0.29, 0.25, 0.31, 0.21, 0.30, 0.24,
    0.32, 0.23, 0.29, 0.25, 0.31, 0.22, 0.30, 0.24, 0.28, 0.22,
    0.31, 0.24, 0.29, 0.22, 0.32, 0.25, 0.29, 0.23, 0.31, 0.22,
    0.30, 0.25, 0.33, 0.22, 0.31, 0.24, 0.29, 0.22, 0.32, 0.24,
    0.30, 0.23, 0.33, 0.25, 0.31, 0.22, 0.34, 0.24, 0.32, 0.25,
    0.34, 0.23, 0.31, 0.25, 0.35, 0.24, 0.32, 0.22, 0.33, 0.25,
    0.31, 0.23, 0.34, 0.24, 0.32, 0.22, 0.33, 0.25, 0.31, 0.23,
    0.34, 0.24, 0.32, 0.22, 0.38, 0.24, 0.36, 0.25, 0.40, 0.26,
    0.45, 0.28, 0.50, 0.30, 0.46, 0.28, 0.42, 0.27, 0.38, 0.26,
    0.33, 0.22, 0.34, 0.23, 1.3, 0.22, 0.33, 0.24, 0.32, 0.22,
    0.33, 0.21, 0.32, 0.23, 0.34, 0.21, 0.33, 0.22, 0.32, 0.20,
    0.33, 0.22, 0.31, 0.21, 0.34, 0.22, 0.32, 0.20, 0.33, 0.22,
    3.4, 0.21, 0.33, 0.22, 0.31, 0.20, 0.34, 0.22, 0.32, 0.21,
    0.33, 0.20, 0.34, 0.22, 0.32, 0.21, 0.33, 0.22, 0.31, 0.20,
    0.34, 0.22, 0.32, 0.21, 0.33, 0.20, 0.34, 0.22, 0.32, 0.21,
    0.33, 0.22, 6.0, 0.31, 0.32, 0.21,
]
ST2_V3_LOW = [
    30, 32.9, 44, 40, 20.2, 15.6, 18.3, 11.7, 6.4, 6.4,
    8.2, 6.6, 4.3, 2.85, 1.98, 1.22, 1.18, 1.15, 1.05, 0.88,
    0.93, 1.02, 0.96, 0.88, 0.82, 0.78, 0.71, 0.90, 1.02, 0.96,
    0.96, 0.99, 0.96, 0.90, 1.02, 0.90, 1.02, 0.99, 0.85, 0.75,
    0.82, 0.75, 0.78, 0.75, 0.71, 0.44, 0.46, 0.44, 0.49, 0.46,
    0.44, 0.34, 0.31, 0.34, 0.41, 0.46, 0.44, 0.32, 0.30, 0.29,
]
ST2_V3_DENSE_1 = [
    0.36, 0.24, 0.39, 0.22, 0.34, 0.25, 0.38, 0.23, 0.41, 0.24,
    0.35, 0.22, 0.46, 0.25, 0.37, 0.23, 0.40, 0.26, 0.35, 0.23,
    0.39, 0.24, 0.36, 0.22, 0.41, 0.25, 0.37, 0.23, 0.44, 0.24,
    0.36, 0.23, 0.40, 0.25, 0.35, 0.22, 0.42, 0.24, 0.37, 0.26,
    0.41, 0.24, 0.49, 0.25, 0.38, 0.23, 0.42, 0.26, 0.37, 0.24,
    0.43, 0.25, 0.38, 0.27, 0.44, 0.24, 0.40, 0.26, 0.37, 0.25,
    0.42, 0.26, 0.45, 0.25, 0.39, 0.27, 0.43, 0.25, 0.40, 0.28,
    0.45, 0.26, 0.41, 0.27, 0.47, 0.25, 0.42, 0.28, 0.44, 0.26,
    0.46, 0.27, 0.43, 0.28, 0.48, 0.26, 0.44, 0.28, 0.47, 0.27,
    0.45, 0.28, 0.50, 0.27, 0.46, 0.29, 0.51, 0.28, 0.84, 0.29,
    0.48, 0.28, 0.52, 0.30, 0.47, 0.28, 0.53, 0.29, 0.49, 0.30,
    0.54, 0.28, 0.50, 0.30, 0.55, 0.29, 0.51, 0.31, 0.56, 0.29,
    0.52, 0.30, 0.57, 0.29, 0.53, 0.31, 0.58, 0.30, 0.54, 0.31,
    0.57, 0.30, 0.55, 0.32, 0.84, 0.31, 0.58, 0.32,
]
ST2_V3_DENSE_10 = [
    0.56, 0.31, 0.60, 0.33, 0.57, 0.32, 0.62, 0.34, 0.58, 0.35,
    1.25, 0.36, 1.30, 0.38, 0.66, 0.40, 0.70, 0.42, 0.75, 0.45,
    1.18, 0.50, 0.80, 0.52, 2.5, 0.55, 2.4, 0.56, 0.85, 3.2,
    0.80, 0.55, 4.5, 0.58, 1.9, 0.54, 0.90, 2.7, 0.70, 0.48,
    1.37, 0.45, 0.62, 0.40, 0.60, 0.38, 0.58, 0.36, 0.62, 2.7,
    0.52, 0.36, 0.58, 0.34, 0.55, 2.4, 0.50, 0.35, 0.48, 0.33,
    2.8, 0.34, 3.2, 0.30, 0.44, 0.26, 0.42, 0.24, 0.43, 0.25,
    0.42, 0.23, 0.44, 0.25, 0.41, 0.22, 0.43, 0.24, 0.42, 0.23,
    0.44, 0.25, 0.42, 0.22, 0.43, 0.24, 0.41, 0.23, 0.44, 0.25,
    0.42, 0.22, 0.43, 0.24, 0.41, 0.25, 0.44, 0.23, 0.42, 0.22,
    0.43, 0.24, 0.84, 0.23, 0.42, 0.25, 0.44, 0.22, 0.41, 0.24,
    0.43, 0.23, 0.42, 0.25, 0.44, 0.22, 0.41, 0.24, 0.43, 0.23,
    0.42, 0.25, 0.44, 0.22, 0.43, 0.24, 0.41, 0.23, 0.42, 0.25,
    0.44, 0.22, 0.43, 0.24, 0.42, 0.23, 0.44, 0.25, 0.41, 0.22,
    0.43, 0.24, 0.42, 0.23, 0.44, 0.25, 0.43, 0.22, 0.42, 0.24,
    0.44, 0.23, 0.41, 0.25, 0.43, 0.22, 0.42, 0.24, 0.44, 0.23,
    0.42, 0.25, 0.43, 0.22, 0.44, 0.24, 1.2, 0.42, 0.23, 0.43,
    0.25, 0.42, 0.24, 0.41,
]

# ---------------- ADE noise specs ----------------
ADE_FREQ = [0.01, 0.1, 0.7, 100]
ST1_ADE = [50, 10, 4.0, 4.0]
ST2_ADE = [7.5, 1.5, 0.6, 0.6]

ST1_NAMES = ["BS_ST1_CPSINF_H1_I", "BS_ST1_CPSINF_H2_I", "BS_ST1_CPSINF_H3_I",
             "BS_ST1_CPSINF_V1_I", "BS_ST1_CPSINF_V2_I", "BS_ST1_CPSINF_V3_I",
             "ADE 1mm noise"]
ST2_NAMES = ["BS_ST2_CPSINF_H1_I", "BS_ST2_CPSINF_H2_I", "BS_ST2_CPSINF_H3_I",
             "BS_ST2_CPSINF_V1_I", "BS_ST2_CPSINF_V2_I", "BS_ST2_CPSINF_V3_I",
             "ADE .25mm noise"]
COLORS = ["#1f77b4", "#ff7f0e", "#2ca02c", "#d62728", "#9467bd", "#8c564b", "#e377c2"]

SUPTITLE = ["CPS Spectra", "1253869200 to 1253869800"]
SIDE_NOTE = "/opt/rtcds/userapps/trunk/sys/h1/scripts/BSC_cps_spectra.py"
FOOT_NOTE = "calibration only >10hz"

X_TICKS = [0.01, 0.02, 0.03, 0.04, 0.05, 0.06, 0.07, 0.08, 0.09,
           0.1, 0.2, 0.3, 0.4, 0.5, 0.6, 0.7, 0.8, 0.9,
           1, 2, 3, 4, 5, 6, 7, 8, 9,
           10, 20, 30, 40, 50, 60, 70, 80, 90, 100, 200]
X_LABELS = {0.01: "10⁻²", 0.1: "10⁻¹", 1: "10⁰", 10: "10¹", 100: "10²"}
Y1_TICKS = [6e-11, 7e-11, 8e-11, 9e-11,
            1e-10, 2e-10, 3e-10, 4e-10, 5e-10, 6e-10, 7e-10, 8e-10, 9e-10,
            1e-9, 2e-9, 3e-9, 4e-9, 5e-9, 6e-9, 7e-9, 8e-9, 9e-9,
            1e-8, 2e-8, 3e-8, 4e-8, 5e-8, 6e-8, 7e-8, 8e-8, 9e-8, 1e-7]
Y1_LABELS = {1e-10: "10⁻¹⁰", 1e-9: "10⁻⁹", 1e-8: "10⁻⁸", 1e-7: "10⁻⁷"}
Y2_TICKS = [4e-12, 5e-12, 6e-12, 7e-12, 8e-12, 9e-12,
            1e-11, 2e-11, 3e-11, 4e-11, 5e-11, 6e-11, 7e-11, 8e-11, 9e-11,
            1e-10, 2e-10, 3e-10, 4e-10, 5e-10, 6e-10, 7e-10, 8e-10, 9e-10,
            1e-9, 2e-9, 3e-9, 4e-9, 5e-9, 6e-9, 7e-9, 8e-9, 9e-9,
            1e-8, 2e-8, 3e-8, 4e-8, 5e-8, 6e-8, 7e-8, 8e-8, 9e-8]
Y2_LABELS = {1e-11: "10⁻¹¹", 1e-10: "10⁻¹⁰", 1e-9: "10⁻⁹", 1e-8: "10⁻⁸"}

Y1_DOMAIN = [5.22e-11, 1.43e-7]
Y2_DOMAIN = [3.77e-12, 9.7e-8]

W, H = 1861, 560


def label_expr(mapping):
    parts = [f"datum.value == {k!r} ? '{v}'" for k, v in mapping.items()]
    return " : ".join(parts) + " : ''"


def build(names, series, ade):
    rows = []
    for name, segments in zip(names, series):
        for freqs, vals in segments:
            for f, v in zip(freqs, vals):
                rows.append({"series": name, "freq": f, "value": v * UNIT})
    for f, v in zip(ADE_FREQ, ade):
        rows.append({"series": names[6], "freq": f, "value": v * UNIT})
    return pd.DataFrame(rows)


def text_layer(txt, x, y, size, weight="normal", angle=0, baseline="alphabetic"):
    return alt.Chart(pd.DataFrame({"t": [txt]})).mark_text(
        font=FONT, fontSize=size, fontWeight=weight, color="black",
        align="center", baseline=baseline, angle=angle,
    ).encode(text="t:N", x=alt.value(x), y=alt.value(y))


def panel(df, names, ydomain, yticks, ylabels, title, extra):
    legend = alt.Legend(
        title=None, orient="top-right", offset=13,
        labelFont=FONT, labelFontSize=28, labelColor="black", labelLimit=1000,
        labelOffset=54, symbolType="M-1,0H3.3", symbolSize=784,
        symbolStrokeWidth=4, rowPadding=13.5, padding=8,
        fillColor="rgba(255,255,255,0.8)", strokeColor="#cccccc", cornerRadius=6,
    )
    xaxis = alt.Axis(
        values=X_TICKS, labelExpr=label_expr(X_LABELS), title="Freq (hz)",
        grid=True, gridColor="#b0b0b0", gridWidth=1.3, domain=False,
        tickColor="black", tickSize=4, tickWidth=1.3,
        labelFont=FONT, labelFontSize=14, labelColor="black", labelPadding=6,
        labelFlush=False, labelOverlap=False,
        titleFont=FONT, titleFontSize=25, titleFontWeight="normal",
        titleColor="black", titlePadding=6,
    )
    yaxis = alt.Axis(
        values=yticks, labelExpr=label_expr(ylabels), title="m/rthz",
        grid=True, gridColor="#b0b0b0", gridWidth=1.3, domain=False,
        tickColor="black", tickSize=4, tickWidth=1.3,
        labelFont=FONT, labelFontSize=14, labelColor="black", labelPadding=5,
        labelFlush=False, labelOverlap=False,
        titleFont=FONT, titleFontSize=25, titleFontWeight="normal",
        titleColor="black", titlePadding=8,
    )
    x = alt.X("freq:Q", scale=alt.Scale(type="log", domain=[0.01, 200], nice=False), axis=xaxis)
    y = alt.Y("value:Q", scale=alt.Scale(type="log", domain=ydomain, nice=False), axis=yaxis)
    color = alt.Color("series:N", scale=alt.Scale(domain=names, range=COLORS), legend=legend)
    layers = []
    for n in names:
        layers.append(
            alt.Chart(df).transform_filter(alt.datum.series == n)
            .mark_line(strokeWidth=4, strokeJoin="round", clip=True)
            .encode(x=x, y=y, color=color)
        )
    layers.append(text_layer(title, W / 2, -9, 28))
    layers.extend(extra)
    return alt.layer(*layers).properties(width=W, height=H)


df1 = build(ST1_NAMES, [
    [(F_LOW, ST1_H1_LOW), (F_HIGH, ST1_H1_HIGH)],
    [(F_LOW, ST1_H2_LOW), (F_HIGH, ST1_H2_HIGH)],
    [(F_LOW, ST1_H3_LOW), (F_HIGH, ST1_H3_HIGH)],
    [(F_LOW, ST1_V1_LOW), (F_HIGH_A, ST1_V1_MID), (F_DENSE_10, ST1_V1_DENSE)],
    [(F_LOW, ST1_V2_LOW), (F_HIGH, ST1_V2_HIGH)],
    [(F_LOW, ST1_V3_LOW), (F_HIGH_A, ST1_V3_MID), (F_DENSE_10, ST1_V3_DENSE)],
], ST1_ADE)
df2 = build(ST2_NAMES, [
    [(F_LOW, ST2_H1_LOW), (F_HIGH, ST2_H1_HIGH)],
    [(F_LOW, ST2_H2_LOW), (F_HIGH, ST2_H2_HIGH)],
    [(F_LOW, ST2_H3_LOW), (F_HIGH, ST2_H3_HIGH)],
    [(F_LOW, ST2_V1_LOW), (F_DENSE_1, ST2_V1_DENSE_1), (F_DENSE_10, ST2_V1_DENSE_10)],
    [(F_LOW, ST2_V2_LOW), (F_HIGH, ST2_V2_HIGH)],
    [(F_LOW, ST2_V3_LOW), (F_DENSE_1, ST2_V3_DENSE_1), (F_DENSE_10, ST2_V3_DENSE_10)],
], ST2_ADE)

p1 = panel(df1, ST1_NAMES, Y1_DOMAIN, Y1_TICKS, Y1_LABELS, "BS_ST1", [
    text_layer(SUPTITLE[0], 900, -131, 36),
    text_layer(SUPTITLE[1], 900, -91, 36),
    text_layer(SIDE_NOTE, 1988, 688, 15, weight="bold", angle=270, baseline="middle"),
])
p2 = panel(df2, ST2_NAMES, Y2_DOMAIN, Y2_TICKS, Y2_LABELS, "BS_ST2", [
    text_layer(FOOT_NOTE, 922, 656, 15, weight="bold"),
])

chart = (
    alt.vconcat(p1, p2, spacing=112, bounds="flush")
    .resolve_scale(x="independent", y="independent", color="independent")
    .properties(padding={"left": 212, "top": 23, "right": 10, "bottom": 10})
    .configure_view(stroke="black", strokeWidth=1.6)
)

chart.save("out.html", embed_options={"renderer": "svg", "actions": False})
